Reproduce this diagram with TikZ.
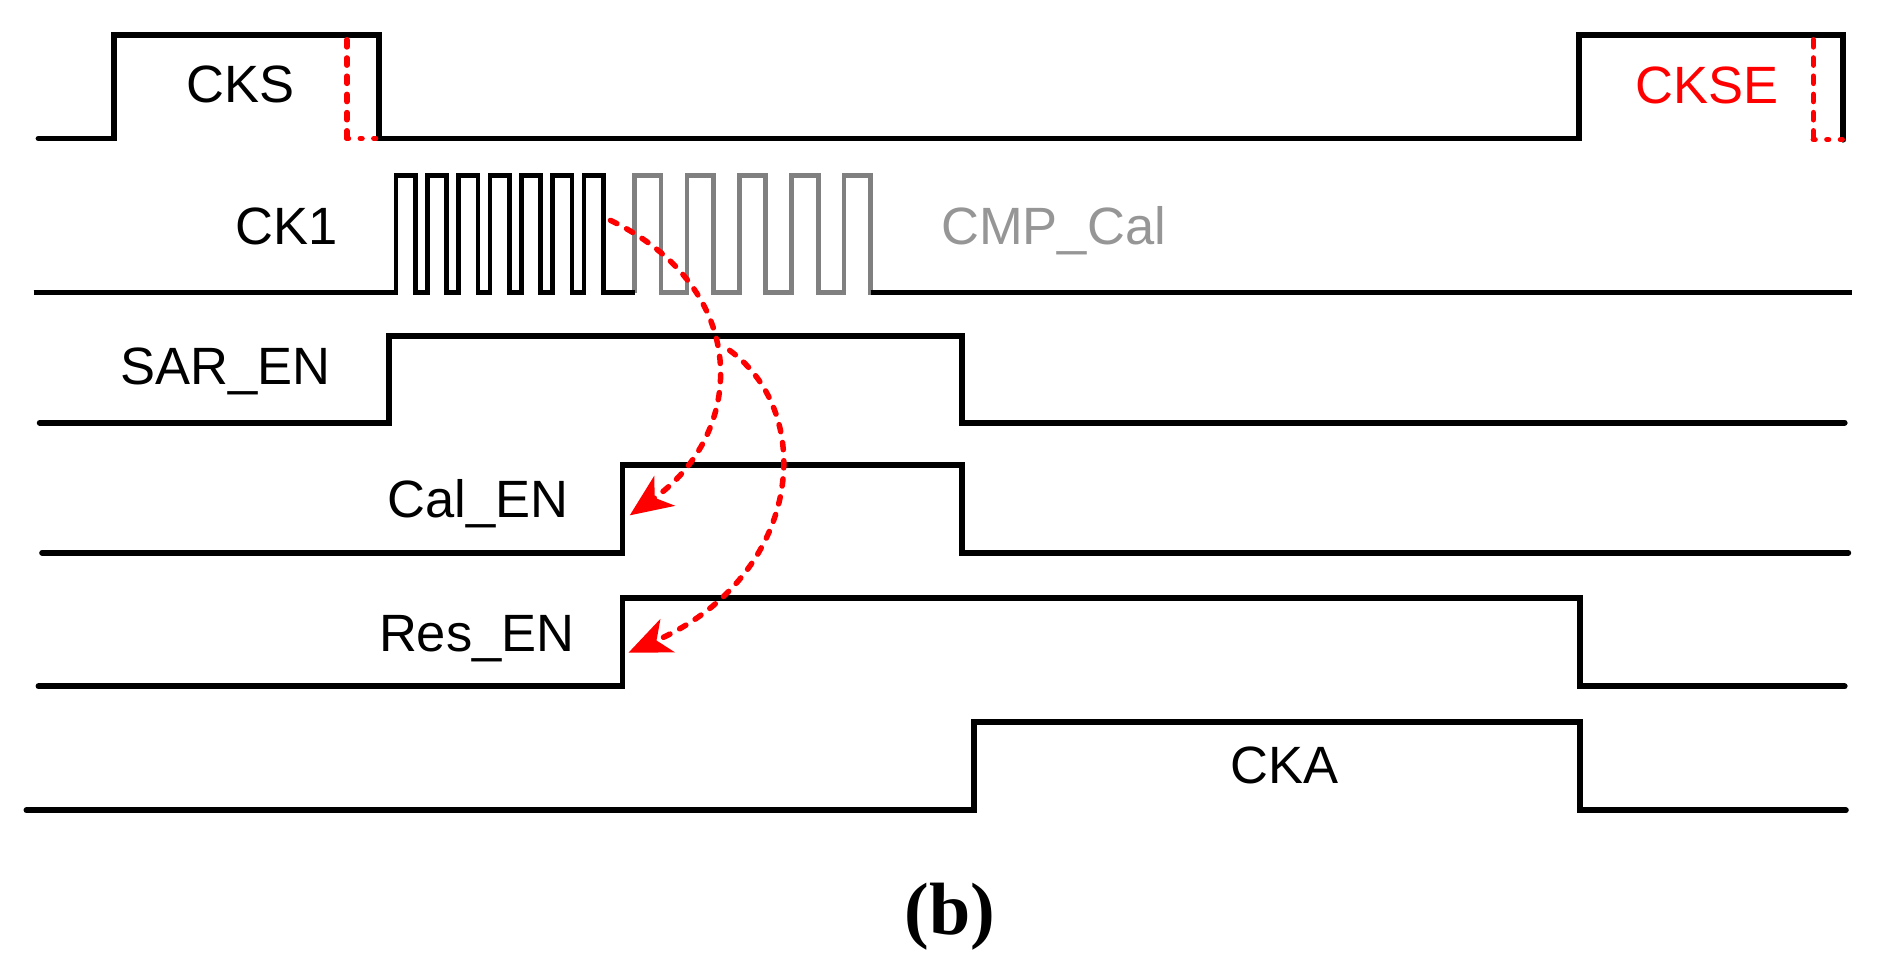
\documentclass[tikz,border=0pt]{standalone}
\usepackage{fontspec}
\setmainfont{Liberation Sans}
\newfontfamily\capfont{Liberation Serif}
\usetikzlibrary{arrows.meta}
\definecolor{cmpgray}{RGB}{128,128,128}
\definecolor{cmptext}{RGB}{150,150,150}

\begin{document}
\begin{tikzpicture}[x=0.01cm, y=-0.01cm, >={Stealth[length=10pt,width=8.5pt,inset=2.8pt]},
  wave/.style={line width=1.4pt, line cap=round, line join=miter},
  pulse/.style={line width=1.1pt, line join=miter},
  lbl/.style={font=\fontsize{12.4}{14}\selectfont, inner sep=0pt, anchor=base},
  reddash/.style={red, line width=1.3pt, line cap=round, dash pattern=on 1.7pt off 2.6pt},
  reddot/.style={red, line width=1.3pt, line cap=round, dash pattern=on 0.4pt off 2.8pt}]
\useasboundingbox (0,0) rectangle (1568,811);

% CKS / CKSE
\draw[wave] (32,115) -- (95,115) -- (95,29) -- (315,29) -- (315,115) -- (1311,115) -- (1311,29) -- (1531,29) -- (1531,116);
\draw[reddash] (288,33) -- (288,115);
\draw[reddot] (288,115) -- (315,115);
\draw[reddash] (1506,33) -- (1506,116);
\draw[reddot] (1506,116) -- (1531,116);
\node (cks) at (200,85) [lbl] {CKS};
\node (ckse) at (1418,86) [lbl, text=red] {CKSE};

% CK1
\draw[pulse, cmpgray] (527,243) \foreach \i in {0,...,4} { -- ++(0,-97) -- ++(22,0) -- ++(0,97) -- ++(21.5,0) };
\draw[pulse] (28,243) -- (329,243) \foreach \i in {0,...,6} { -- ++(0,-97) -- ++(16,0) -- ++(0,97) -- ++(10,0) } -- (527,243);
\draw[pulse] (723,243) -- (1538,243);
\node (ck1) at (238,203) [lbl] {CK1};
\node (cmpcal) at (875,203) [lbl, text=cmptext] {CMP\_Cal};

% SAR_EN
\draw[wave] (33,351) -- (323,351) -- (323,279) -- (799,279) -- (799,351) -- (1532,351);
\node (saren) at (187,319) [lbl] {SAR\_EN};

% Cal_EN
\draw[wave] (35,459) -- (517,459) -- (517,386) -- (799,386) -- (799,459) -- (1535,459);
\node (calen) at (397,430) [lbl] {Cal\_EN};

% Res_EN
\draw[wave] (32,570) -- (517,570) -- (517,497) -- (1312,497) -- (1312,570) -- (1532,570);
\node (resen) at (396,541) [lbl] {Res\_EN};

% CKA
\draw[wave] (22,673) -- (809,673) -- (809,600) -- (1312,600) -- (1312,673) -- (1533,673);
\node (cka) at (1067,651) [lbl] {CKA};

% red arrows
\coordinate (calsrc) at (507,183);
\coordinate (caldst) at (523,428);
\coordinate (ressrc) at (606,291);
\coordinate (resdst) at (522,542);
\draw[reddash, ->] (calsrc) .. controls (625,240) and (620,360) .. (caldst);
\draw[reddash, ->] (ressrc) .. controls (680,345) and (665,480) .. (resdst);

\node (capb) at (789,776) [anchor=base, inner sep=0pt, font=\capfont\fontsize{17.5}{20}\selectfont\bfseries] {(b)};
\end{tikzpicture}
\end{document}
